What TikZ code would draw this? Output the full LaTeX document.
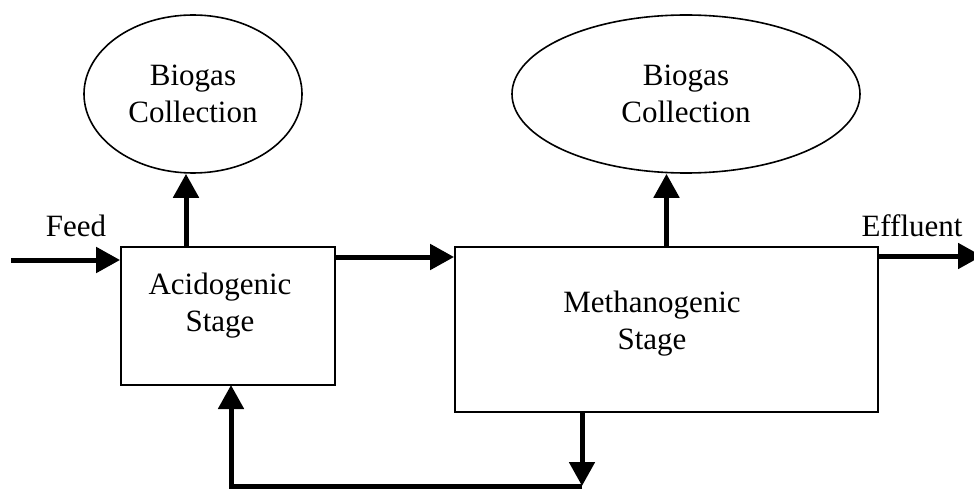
\documentclass[tikz,border=0pt]{standalone}
\usepackage{fontspec}
\setmainfont{Liberation Serif}
\usetikzlibrary{arrows.meta,shapes.geometric}
\begin{document}
\begin{tikzpicture}[x=1pt,y=-1pt,
  every node/.style={font=\fontsize{31}{37}\selectfont},
  gasbox/.style={draw,ellipse,line width=1.6pt,inner sep=0pt,align=center},
  stagebox/.style={draw,rectangle,line width=1.8pt,inner sep=0pt},
  lbl/.style={align=center,inner sep=0pt},
  flow/.style={line width=5pt,-{Triangle[length=24pt,width=25pt]}},
  plain/.style={line width=5pt}]
\useasboundingbox (0,0) rectangle (974,489);
% biogas collectors
\node[gasbox,minimum width=218pt,minimum height=158pt] (bg1) at (193,94) {Biogas\\Collection};
\node[gasbox,minimum width=348pt,minimum height=158pt] (bg2) at (686,94) {Biogas\\Collection};
% stages
\node[stagebox,minimum width=214pt,minimum height=138pt] (acid) at (228,316) {};
\node[stagebox,minimum width=423pt,minimum height=165pt] (meth) at (666.5,329.5) {};
\node[lbl] (acidtxt) at (220,306) {Acidogenic\\Stage};
\node[lbl] (methtxt) at (652,324) {Methanogenic\\Stage};
% outer labels
\node[lbl] (feed) at (76,226) {Feed};
\node[lbl] (eff) at (912,226) {Effluent};
% coordinates
\coordinate (feedin) at (11,260);
\coordinate (effout) at (982,256);
\coordinate (a1) at (186,247);
\coordinate (a2) at (335,257);
\coordinate (m1) at (582,412);
\coordinate (fb1) at (582,486);
\coordinate (fb2) at (231,486);
\coordinate (fb3) at (231,385);
% connectors
\draw[flow] (feedin) -- (feedin -| acid.west);
\draw[flow] (a1) -- (a1 |- bg1.south);
\draw[flow] (a2) -- (a2 -| meth.west);
\draw[flow] (meth.north) -- (meth.north |- bg2.south);
\draw[flow] (meth.east |- effout) -- (effout);
\draw[flow] (m1) -- (fb1);
\draw[flow] (fb1) -- (fb2) -- (fb3);
\end{tikzpicture}
\end{document}
